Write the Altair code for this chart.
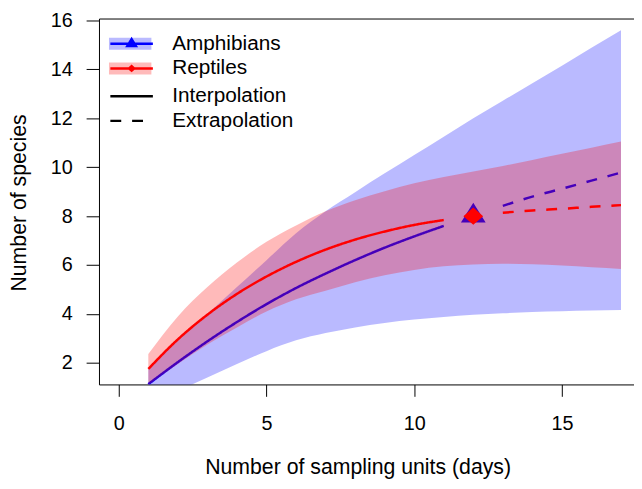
import altair as alt
import pandas as pd

# ---- data ----
x_units = list(range(1, 18))
amph_est = [1.13, 2.03, 2.88, 3.67, 4.40, 5.06, 5.65, 6.20, 6.71, 7.17, 7.60, 8.00, 8.42, 8.80, 9.12, 9.45, 9.78]
amph_lcl = [0.25, 0.85, 1.40, 1.95, 2.48, 2.92, 3.22, 3.45, 3.63, 3.77, 3.88, 3.97, 4.03, 4.08, 4.11, 4.14, 4.16]
amph_ucl = [1.75, 2.95, 4.00, 5.10, 6.20, 7.30, 8.20, 8.98, 9.75, 10.50, 11.25, 12.00, 12.72, 13.43, 14.15, 14.88, 15.60]
rept_est = [1.75, 2.96, 3.97, 4.82, 5.53, 6.13, 6.63, 7.04, 7.37, 7.64, 7.84, 8.00, 8.14, 8.23, 8.30, 8.38, 8.45]
rept_lcl = [1.10, 1.95, 2.75, 3.45, 4.10, 4.60, 4.95, 5.30, 5.58, 5.80, 5.95, 6.02, 6.05, 6.03, 5.98, 5.91, 5.84]
rept_ucl = [2.36, 3.90, 5.10, 6.10, 6.95, 7.62, 8.20, 8.65, 9.02, 9.34, 9.60, 9.83, 10.05, 10.30, 10.55, 10.80, 11.05]
species_names = ["Amphibians", "Reptiles"]
band_codes = ["A", "R"]
method_names = ["Interpolation", "Extrapolation"]
observed_x = 12
x_ticks = [0, 5, 10, 15]
y_ticks = [2, 4, 6, 8, 10, 12, 14, 16]

rows = []
for sp, code, est, lcl, ucl in [
    (species_names[0], band_codes[0], amph_est, amph_lcl, amph_ucl),
    (species_names[1], band_codes[1], rept_est, rept_lcl, rept_ucl),
]:
    for xi, e, lo, hi in zip(x_units, est, lcl, ucl):
        if xi < observed_x:
            m = "Interpolation"
        elif xi == observed_x:
            m = "Observed"
        else:
            m = "Extrapolation"
        rows.append(dict(x=xi, species=sp, band=code, est=e, lcl=lo, ucl=hi, method=m))
df = pd.DataFrame(rows)

FONT = "Liberation Sans"
BLUE = "#0000FF"
RED = "#FF0000"

x_scale = alt.Scale(domain=[-0.67, 17.44], nice=False, zero=False)
y_scale = alt.Scale(domain=[1.118, 16.08], nice=False, zero=False)

x_axis_bottom = alt.Axis(values=x_ticks, title="Number of sampling units (days)", tickSize=12,
                         labelPadding=18, labelFontSize=20, titleFontSize=21.5,
                         titleX=261.5, titleY=90, titleAlign="center", titleBaseline="alphabetic",
                         orient="bottom")
x_axis_top = alt.Axis(orient="top", labels=False, ticks=False, title=None, domain=True)
y_axis = alt.Axis(values=y_ticks, title="Number of species", tickSize=13, labelPadding=14,
                  labelFontSize=20, titleFontSize=21.5, titleX=-74.5, titleY=186,
                  titleAngle=270, titleAlign="center", titleBaseline="alphabetic", orient="left")

band_legend = alt.Legend(orient="none", legendX=10, legendY=13, title=None,
                         symbolType="M-1,-0.28L1,-0.28L1,0.28L-1,0.28Z", symbolSize=1849,
                         symbolOpacity=0.27, symbolStrokeWidth=0, labelExpr="''",
                         clipHeight=25, rowPadding=0, padding=0, labelOffset=18)
species_legend = alt.Legend(orient="none", legendX=10, legendY=13, title=None,
                            symbolSize=1849, symbolStrokeWidth=2.5, symbolOpacity=1,
                            clipHeight=25, rowPadding=0, padding=0, labelOffset=18,
                            labelFontSize=21)
dash_legend = alt.Legend(orient="none", legendX=10, legendY=66, title=None,
                         symbolType="stroke", symbolSize=1849, symbolStrokeWidth=2.5,
                         symbolStrokeColor="black", clipHeight=25, rowPadding=0, padding=0,
                         labelOffset=18, labelFontSize=21)

# symbol paths: a horizontal segment (visible only when stroked, i.e. in the legend) plus the marker
tri_path = "M-1,0L1,0M0,-0.216L0.2,0.104L-0.2,0.104Z"
dia_path = "M-1,0L1,0M0,-0.105L0.12,0L0,0.105L-0.12,0Z"

band_fill = alt.Fill("band:N", scale=alt.Scale(domain=band_codes, range=[BLUE, RED]), legend=band_legend)
color_enc = alt.Color("species:N", scale=alt.Scale(domain=species_names, range=[BLUE, RED]),
                      legend=species_legend)
shape_enc = alt.Shape("species:N", scale=alt.Scale(domain=species_names, range=[tri_path, dia_path]),
                      legend=species_legend)
dash_enc = alt.StrokeDash("method:N", scale=alt.Scale(domain=method_names, range=[[1, 0], [11, 11]]),
                          legend=dash_legend)

base = alt.Chart(df)


def area_layer(sp, xaxis):
    return base.transform_filter(alt.datum.species == sp).mark_area(
        opacity=0.27, clip=True, interpolate="monotone"
    ).encode(
        x=alt.X("x:Q", scale=x_scale, axis=xaxis),
        y=alt.Y("lcl:Q", scale=y_scale, axis=y_axis),
        y2="ucl:Q",
        fill=band_fill,
    )


def line_layer(sp):
    return base.transform_filter(
        (alt.datum.species == sp) & (alt.datum.method != "Observed")
    ).mark_line(strokeWidth=2.5, clip=True, interpolate="monotone").encode(
        x=alt.X("x:Q", scale=x_scale, axis=None),
        y=alt.Y("est:Q", scale=y_scale, axis=y_axis),
        color=color_enc,
        strokeDash=dash_enc,
    )


def point_layer(sp, size):
    return base.transform_filter(
        (alt.datum.species == sp) & (alt.datum.method == "Observed")
    ).mark_point(filled=True, size=size, opacity=1).encode(
        x=alt.X("x:Q", scale=x_scale, axis=None),
        y=alt.Y("est:Q", scale=y_scale, axis=y_axis),
        color=color_enc,
        shape=shape_enc,
    )


chart = alt.layer(
    area_layer("Amphibians", x_axis_bottom),
    line_layer("Amphibians"),
    point_layer("Amphibians", 15625),
    area_layer("Reptiles", x_axis_top),
    line_layer("Reptiles"),
    point_layer("Reptiles", 27778),
).resolve_axis(x="independent").properties(
    width=541, height=370,
    padding={"left": 92, "top": 8, "right": 0, "bottom": 95},
    autosize=alt.AutoSizeParams(type="none"),
).configure_view(stroke=None).configure_axis(
    grid=False, domainColor="black", tickColor="black", labelColor="black",
    titleColor="black", labelFont=FONT, titleFont=FONT, titleFontWeight="normal",
    domainWidth=1, tickWidth=1,
).configure_legend(labelFont=FONT, labelFontSize=21, labelColor="black")

chart.save("out.html", embed_options={"renderer": "svg", "actions": False})
